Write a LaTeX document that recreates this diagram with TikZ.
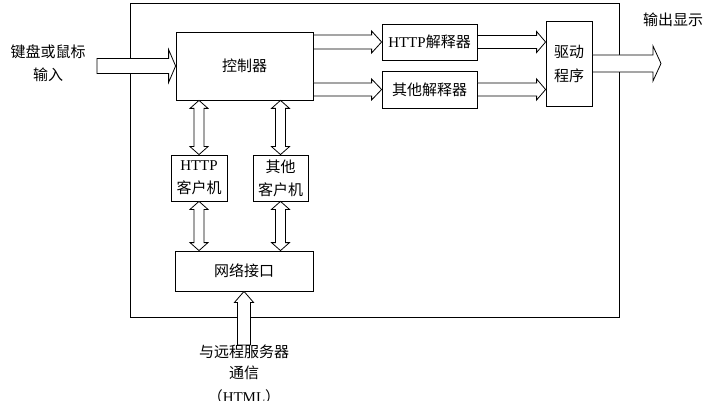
\documentclass[tikz,border=0pt]{standalone}
\usepackage{fontspec}
\setmainfont{Liberation Serif}
\newfontfamily\cjk{Noto Sans CJK SC}
\usetikzlibrary{calc}
% horizontal block arrow: start, end(tip), half shaft, half head, head length
\newcommand\hblock[5]{%
  \draw[blockarrow] let \p1=(#1), \p2=(#2) in
    (\x1,\y1+#3pt) -- (\x2-#5pt,\y1+#3pt) -- (\x2-#5pt,\y1+#4pt) -- (\x2,\y1)
    -- (\x2-#5pt,\y1-#4pt) -- (\x2-#5pt,\y1-#3pt) -- (\x1,\y1-#3pt) -- cycle;}
% vertical double block arrow: top tip, bottom tip, half shaft, half head, head length
\newcommand\vdblock[5]{%
  \draw[blockarrow] let \p1=(#1), \p2=(#2) in
    (\x1,\y1) -- (\x1+#4pt,\y1-#5pt) -- (\x1+#3pt,\y1-#5pt) -- (\x1+#3pt,\y2+#5pt)
    -- (\x1+#4pt,\y2+#5pt) -- (\x1,\y2) -- (\x1-#4pt,\y2+#5pt) -- (\x1-#3pt,\y2+#5pt)
    -- (\x1-#3pt,\y1-#5pt) -- (\x1-#4pt,\y1-#5pt) -- cycle;}
% vertical upward block arrow: bottom start, top tip, half shaft, half head, head length
\newcommand\vublock[5]{%
  \draw[blockarrow] let \p1=(#1), \p2=(#2) in
    (\x2,\y2) -- (\x2+#4pt,\y2-#5pt) -- (\x2+#3pt,\y2-#5pt) -- (\x2+#3pt,\y1)
    -- (\x2-#3pt,\y1) -- (\x2-#3pt,\y2-#5pt) -- (\x2-#4pt,\y2-#5pt) -- cycle;}
\tikzset{
  blockarrow/.style={draw=black, fill=white, line width=0.8pt, line join=miter},
  box/.style={draw=black, line width=0.8pt, inner sep=0pt, align=center,
    font=\fontsize{15}{24}\selectfont\cjk},
  lbl/.style={inner sep=0pt, align=center, font=\fontsize{15}{23}\selectfont\cjk},
  frame/.style={draw=black, line width=0.8pt}
}
\begin{document}
\begin{tikzpicture}[x=1pt,y=-1pt]
\useasboundingbox (0,0) rectangle (723,401);
\draw[frame] (130,3) rectangle (619,317);

\node[box, minimum width=137pt, minimum height=68pt] (ctrl) at (244.5,66) {控制器};
\node[box, minimum width=95pt, minimum height=36pt] (http) at (429.5,42) {{\rmfamily HTTP}解释器};
\node[box, minimum width=95pt, minimum height=37pt] (other) at (429.5,89.5) {其他解释器};
\node[box, minimum width=46pt, minimum height=85pt] (drv) at (569,63.5) {驱动\\程序};
\node[box, minimum width=56pt, minimum height=46pt, font=\fontsize{15}{23}\selectfont\cjk] (httpc) at (199,178) {{\rmfamily HTTP}\\客户机};
\node[box, minimum width=55pt, minimum height=46pt, font=\fontsize{15}{23}\selectfont\cjk] (otherc) at (280.5,178) {其他\\客户机};
\node[box, minimum width=138pt, minimum height=40pt] (net) at (244,271) {网络接口};

\coordinate (inp) at (97,66);
\coordinate (outp) at (661,63.5);
\coordinate (bot) at (244,345);

\hblock{inp}{ctrl.west}{7.5}{16.5}{7}
\hblock{ctrl.east |- http.west}{http.west}{7}{11}{10}
\hblock{ctrl.east |- other.west}{other.west}{6.5}{10.5}{10}
\hblock{http.east}{drv.west |- http.east}{6.5}{10.5}{9}
\hblock{other.east}{drv.west |- other.east}{6.5}{10.5}{9}
\hblock{drv.east}{outp}{8.5}{17.5}{8}
\vdblock{ctrl.south -| httpc.north}{httpc.north}{5}{9}{8}
\vdblock{ctrl.south -| otherc.north}{otherc.north}{5}{9}{8}
\vdblock{httpc.south}{net.north -| httpc.south}{5}{9}{8}
\vdblock{otherc.south}{net.north -| otherc.south}{5}{9}{8}
\vublock{bot}{net.south -| bot}{6.5}{9.5}{11}

\node[lbl] (inlbl) at (48,63) {键盘或鼠标\\输入};
\node[lbl] (outlbl) at (673,20) {输出显示};
\node[lbl] (rem1) at (244,352) {与远程服务器};
\node[lbl] (rem2) at (244,373) {通信};
\node[lbl] (rem3) at (244,397) {（{\rmfamily HTML}）};
\end{tikzpicture}
\end{document}
